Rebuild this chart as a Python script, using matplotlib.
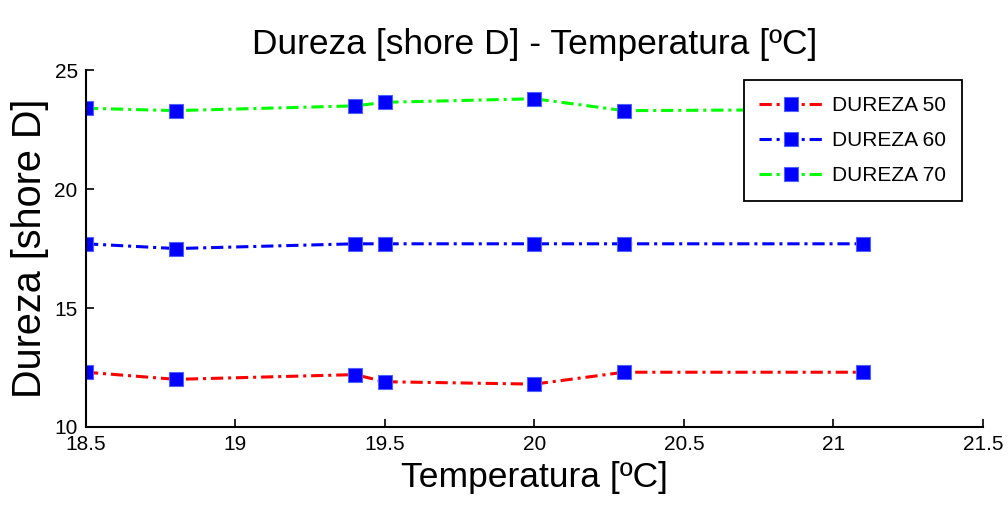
import matplotlib
matplotlib.use("Agg")
import matplotlib.pyplot as plt
from matplotlib import font_manager

temps = [18.5, 18.8, 19.4, 19.5, 20.0, 20.3, 21.1]
dureza50 = [12.3, 12.0, 12.2, 11.9, 11.8, 12.3, 12.3]
dureza60 = [17.7, 17.5, 17.7, 17.7, 17.7, 17.7, 17.7]
dureza70 = [23.4, 23.3, 23.5, 23.65, 23.8, 23.3, 23.35]
labels = ["DUREZA 50", "DUREZA 60", "DUREZA 70"]
colors = ["#ff0000", "#0000ff", "#00ff00"]
xticks = [18.5, 19, 19.5, 20, 20.5, 21, 21.5]
yticks = [10, 15, 20, 25]

names = {f.name for f in font_manager.fontManager.ttflist}
fam = "Liberation Sans Narrow" if "Liberation Sans Narrow" in names else "Liberation Sans"
plt.rcParams["font.family"] = [fam, "DejaVu Sans"]

fig = plt.figure(figsize=(10.08, 5.2), dpi=100)
ax = fig.add_axes([0.0853, 0.179, 0.8897, 0.686])

for ys, lab, c in zip([dureza50, dureza60, dureza70], labels, colors):
    ax.plot(temps, ys, linestyle=(0, (4, 1.6, 1, 1.6)), color=c, linewidth=2.2,
            marker="s", markersize=9.5, markerfacecolor="#0000ff",
            markeredgecolor="#5060ff", markeredgewidth=0.8, label=lab)

ax.set_xlim(18.5, 21.5)
ax.set_ylim(10, 25)
ax.set_xticks(xticks)
ax.set_xticklabels(["18.5", "19", "19.5", "20", "20.5", "21", "21.5"])
ax.set_yticks(yticks)
ax.spines["top"].set_visible(False)
ax.spines["right"].set_visible(False)
for s in ["left", "bottom"]:
    ax.spines[s].set_linewidth(1.5)
ax.tick_params(direction="in", length=6, width=1.2, labelsize=15, pad=6)

ax.set_title("Dureza [shore D] - Temperatura [ºC]", fontsize=25.5, pad=12)
ax.set_xlabel("Temperatura [ºC]", fontsize=25.5, labelpad=5)
ax.set_ylabel("Dureza [shore D]", fontsize=28.5, labelpad=4)

leg = ax.legend(loc="upper right", bbox_to_anchor=(0.9766, 0.972), borderaxespad=0,
                fontsize=15, frameon=True, fancybox=False, edgecolor="black",
                framealpha=1, handlelength=3.0, handletextpad=0.5,
                borderpad=0.75, labelspacing=0.78)
leg.get_frame().set_linewidth(1.3)
leg.set_zorder(10)

fig.savefig("out.png", dpi=100, facecolor="white")
